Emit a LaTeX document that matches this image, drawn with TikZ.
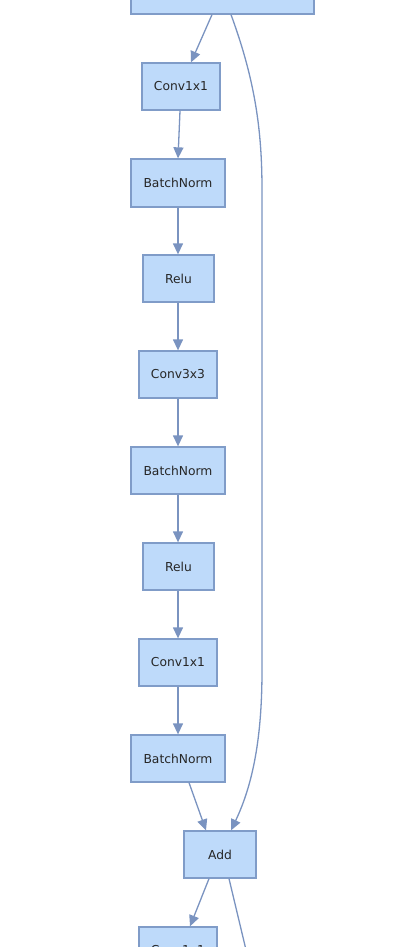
\documentclass[tikz,border=0pt]{standalone}
\usepackage{fontspec}
\setmainfont{DejaVu Sans}
\usetikzlibrary{arrows.meta}
\definecolor{nodefill}{RGB}{190,218,250}
\definecolor{nodeline}{RGB}{128,156,200}
\definecolor{edgecol}{RGB}{122,147,192}
\tikzset{
  blk/.style={draw=nodeline, fill=nodefill, line width=1.3pt, inner sep=0pt, font=\fontsize{12.3}{14}\selectfont, text=black!85},
  e/.style={draw=edgecol, line width=1.3pt, -{Triangle[length=11pt,width=10pt]}},
  ep/.style={draw=edgecol, line width=1.3pt},
}
\begin{document}
\begin{tikzpicture}[x=1pt,y=-1pt]
\useasboundingbox (0,0) rectangle (410,947);
\clip (0,0) rectangle (410,947);
\node[blk, minimum width=183pt, minimum height=48pt] (top) at (222.5,-10) {};
\node[blk, minimum width=78pt, minimum height=47pt] (c1) at (181,86.5) {Conv1x1};
\node[blk, minimum width=94pt, minimum height=48pt] (b1) at (178,183) {BatchNorm};
\node[blk, minimum width=71pt, minimum height=47pt] (r1) at (178.5,278.5) {Relu};
\node[blk, minimum width=78pt, minimum height=47pt] (c2) at (178,374.5) {Conv3x3};
\node[blk, minimum width=94pt, minimum height=47pt] (b2) at (178,470.5) {BatchNorm};
\node[blk, minimum width=71pt, minimum height=47pt] (r2) at (178.5,566.5) {Relu};
\node[blk, minimum width=78pt, minimum height=47pt] (c3) at (178,662.5) {Conv1x1};
\node[blk, minimum width=94pt, minimum height=47pt] (b3) at (178,758.5) {BatchNorm};
\node[blk, minimum width=72pt, minimum height=47pt] (add) at (220,854.5) {Add};
\node[blk, minimum width=78pt, minimum height=47pt] (c4) at (178,950.5) {Conv1x1};
\coordinate (out) at (252,975);

\draw[e] ([xshift=-10.5pt]top.south) -- ([xshift=10pt]c1.north);
\draw[e] ([xshift=-1pt]c1.south) -- ([xshift=0pt]b1.north);
\draw[e] (b1.south) -- ([xshift=-0.5pt]r1.north);
\draw[e] ([xshift=-0.5pt]r1.south) -- (c2.north);
\draw[e] (c2.south) -- (b2.north);
\draw[e] (b2.south) -- ([xshift=-0.5pt]r2.north);
\draw[e] ([xshift=-0.5pt]r2.south) -- (c3.north);
\draw[e] (c3.south) -- (b3.north);
\draw[e] ([xshift=11pt]b3.south) -- ([xshift=-14pt]add.north);
\draw[e] ([xshift=8.5pt]top.south) .. controls (255,80) and (262,130) .. (262,190)
  -- (262,670) .. controls (262,730) and (255,780) .. ([xshift=11pt]add.north);
\draw[e] ([xshift=-11pt]add.south) -- ([xshift=12pt]c4.north);
\draw[ep] ([xshift=9pt]add.south) -- (out);
\end{tikzpicture}
\end{document}
